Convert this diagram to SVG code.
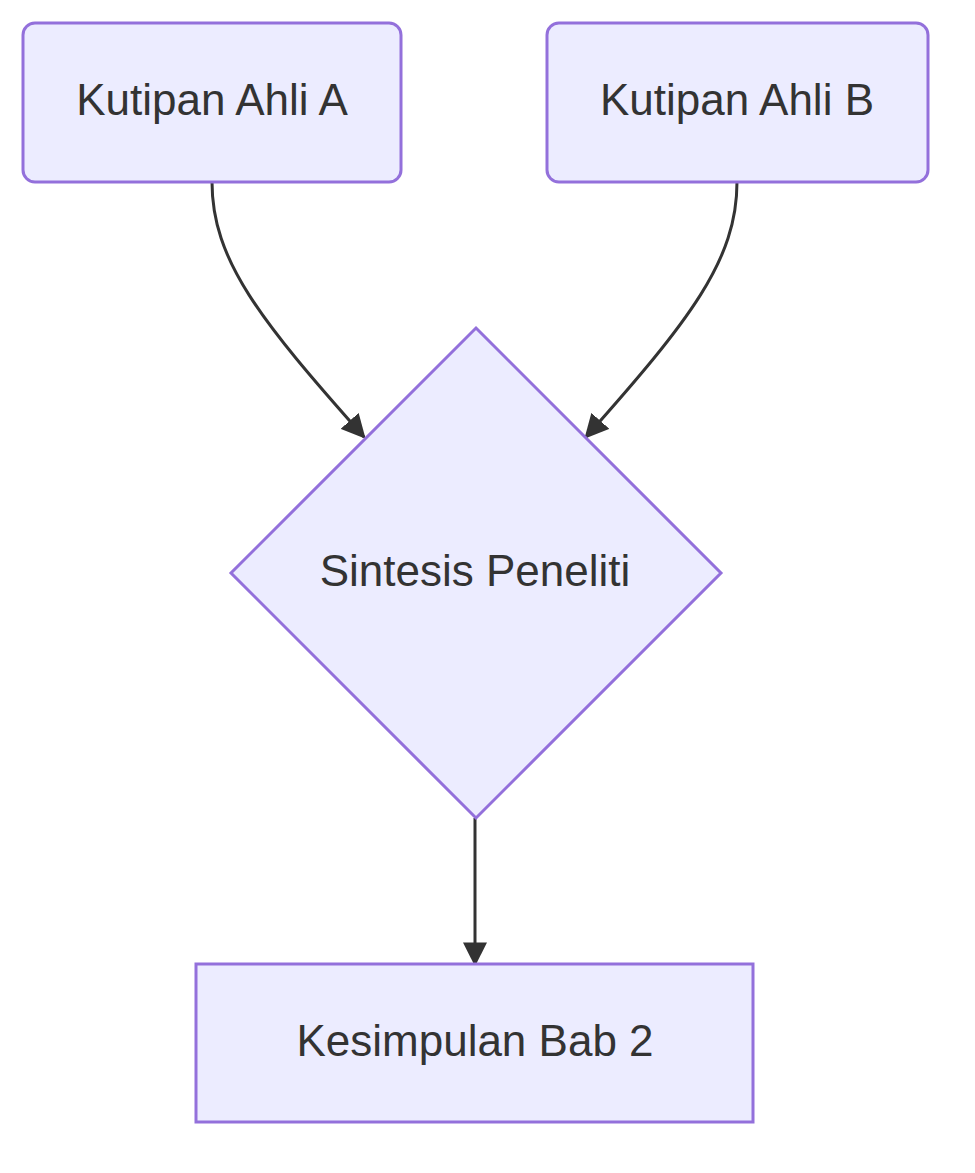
<svg xmlns="http://www.w3.org/2000/svg" width="975" height="1173" viewBox="0 0 975 1173">
<style>
.n{fill:#ECECFF;stroke:#9370DB;stroke-width:3}
.t{font-family:"Liberation Sans",Arial,sans-serif;font-size:44px;fill:#333;text-anchor:middle;dominant-baseline:central}
.e{fill:none;stroke:#333;stroke-width:3}
</style>
<defs><marker id="a" viewBox="0 0 10 10" refX="9" refY="5" markerWidth="8" markerHeight="8" markerUnits="userSpaceOnUse" orient="auto"><path d="M0,0L10,5L0,10z" fill="#333"/></marker>
<marker id="m" viewBox="0 0 10 10" refX="9" refY="5" markerWidth="24" markerHeight="24" markerUnits="userSpaceOnUse" orient="auto"><path d="M0,0L10,5L0,10z" fill="#333"/></marker></defs>
<g id="edges">
<path class="e" d="M212,182 C212,260 260,320 364,437" marker-end="url(#m)"/>
<path class="e" d="M737,182 C737,260 690,320 586,437" marker-end="url(#m)"/>
<path class="e" d="M475,818 L475,964" marker-end="url(#m)"/>
</g>
<g id="A"><rect class="n" x="23" y="23" width="378" height="159" rx="12"/><text class="t" x="212" y="99">Kutipan Ahli A</text></g>
<g id="B"><rect class="n" x="547" y="23" width="381" height="159" rx="12"/><text class="t" x="737" y="99">Kutipan Ahli B</text></g>
<g id="C"><polygon class="n" points="476,328 721,573 476,818 231,573"/><text class="t" x="475" y="570">Sintesis Peneliti</text></g>
<g id="D"><rect class="n" x="196" y="964" width="557" height="158"/><text class="t" x="475" y="1040">Kesimpulan Bab 2</text></g>
</svg>
